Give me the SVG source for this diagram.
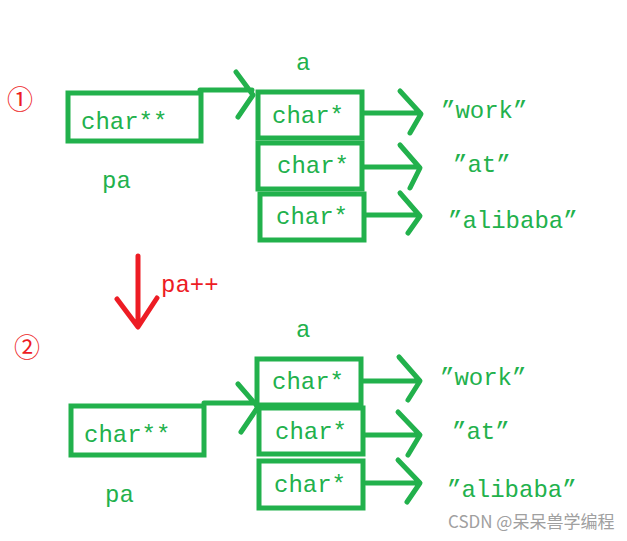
<svg xmlns="http://www.w3.org/2000/svg" width="627" height="541" viewBox="0 0 627 541">
<style>
.box{fill:none;stroke:#22b14c;stroke-width:5}
.ln{fill:none;stroke:#22b14c;stroke-width:5;stroke-linecap:round;stroke-linejoin:round}
.red{fill:none;stroke:#ed1c24;stroke-width:5;stroke-linecap:round;stroke-linejoin:round}
.t{font-family:"Liberation Mono",monospace;font-size:24px;fill:#22b14c}
.r{font-family:"Liberation Mono",monospace;font-size:24px;fill:#ed1c24}
.c{font-family:"Noto Sans CJK SC","DejaVu Sans",sans-serif;font-size:26px;fill:#ed1c24}
.w{font-family:"Noto Sans CJK SC","Noto Sans",sans-serif;font-size:17px;fill:#a0a0a0}
</style>
<rect width="627" height="541" fill="#ffffff"/>
<text class="c" x="7" y="109">①</text>
<text class="c" x="14" y="357">②</text>
<g id="pa1"><rect class="box" x="68" y="93" width="133" height="48"/><text class="t" x="81" y="129">char**</text></g>
<text class="t" x="102" y="188">pa</text>
<text class="t" x="296" y="70">a</text>
<g id="a1_0"><rect class="box" x="258" y="92" width="104" height="46"/><text class="t" x="272" y="123">char*</text></g>
<g id="a1_1"><rect class="box" x="258" y="143" width="104" height="46"/><text class="t" x="277" y="173">char*</text></g>
<g id="a1_2"><rect class="box" x="260" y="194" width="104" height="46"/><text class="t" x="276" y="224">char*</text></g>
<g id="s1_0"><text class="t" x="441" y="118">”work”</text></g>
<g id="s1_1"><text class="t" x="453" y="172">”at”</text></g>
<g id="s1_2"><text class="t" x="448" y="228">”alibaba”</text></g>
<g id="pa2"><rect class="box" x="71" y="406" width="133" height="49"/><text class="t" x="84" y="442">char**</text></g>
<text class="t" x="105" y="502">pa</text>
<text class="t" x="296" y="337">a</text>
<g id="a2_0"><rect class="box" x="257" y="359" width="104" height="46"/><text class="t" x="272" y="389">char*</text></g>
<g id="a2_1"><rect class="box" x="259" y="408" width="104" height="46"/><text class="t" x="275" y="439">char*</text></g>
<g id="a2_2"><rect class="box" x="259" y="461" width="104" height="47"/><text class="t" x="274" y="492">char*</text></g>
<g id="s2_0"><text class="t" x="440" y="385">”work”</text></g>
<g id="s2_1"><text class="t" x="452" y="439">”at”</text></g>
<g id="s2_2"><text class="t" x="447" y="497">”alibaba”</text></g>
<text class="r" x="161" y="292">pa++</text>
<g id="connectors">
<path class="ln" d="M200 90 H252 M236 72 L253 95 L238 117"/>
<path class="ln" d="M364 113 H420 M400 91 L421 114 L410 133"/>
<path class="ln" d="M364 167 H419 M400 145 L420 168 L410 188"/>
<path class="ln" d="M366 215 H419 M400 193 L420 216 L408 233"/>
<path class="ln" d="M204 403 H256 M238 384 L258 407 L241 432"/>
<path class="ln" d="M363 381 H419 M399 357 L420 381 L408 400"/>
<path class="ln" d="M365 435 H419 M398 412 L420 435 L408 455"/>
<path class="ln" d="M366 483 H419 M398 460 L420 483 L407 502"/>
<path class="red" d="M138 256 V326 M117 299 L138 327 L157 298"/>
</g>
<text class="w" x="448" y="528">CSDN @呆呆兽学编程</text>
</svg>
